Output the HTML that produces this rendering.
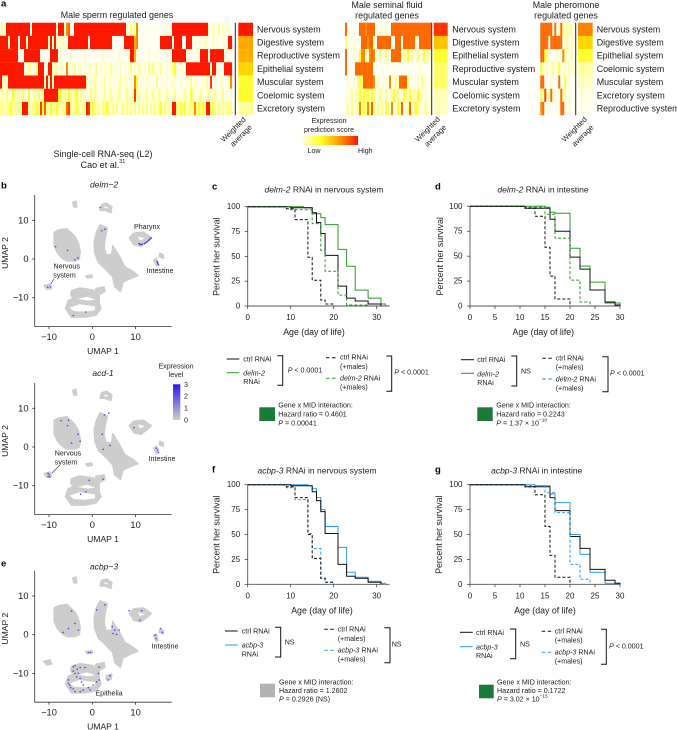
<!DOCTYPE html>
<html lang="en">
<head>
<meta charset="utf-8">
<title>Male-induced demise figure</title>
<style>
html,body{margin:0;padding:0;background:#fff;}
svg{display:block;}
text{font-family:"Liberation Sans",sans-serif;fill:#1c1c1c;dominant-baseline:central;}
.m{text-anchor:middle;}
.f7{font-size:7.1px;}
.f8{font-size:8.5px;}
.f9{font-size:8.9px;}
.w{font-size:7.6px;}
.i{font-style:italic;}
.pl{font-family:"Liberation Sans",sans-serif;font-weight:bold;font-size:9.5px;fill:#000;}
.br{fill:none;stroke:#111;stroke-width:1;}
</style>
</head>
<body>
<svg id="fig" xmlns="http://www.w3.org/2000/svg" width="677" height="730" viewBox="0 0 677 730">
<defs>
<linearGradient id="heatGrad" x1="0" x2="1" y1="0" y2="0">
<stop offset="0" stop-color="#fffff2"/><stop offset="0.35" stop-color="#ffff20"/><stop offset="0.7" stop-color="#ff9000"/><stop offset="1" stop-color="#fe1800"/>
</linearGradient>
<linearGradient id="exprGrad" x1="0" x2="0" y1="1" y2="0">
<stop offset="0" stop-color="#cfcfcf"/><stop offset="1" stop-color="#2a16f0"/>
</linearGradient>
</defs>

<!-- panel letters -->
<text class="pl" x="1" y="4">a</text>
<text class="pl" x="1" y="186">b</text>
<text class="pl" x="212" y="187">c</text>
<text class="pl" x="435" y="187">d</text>
<text class="pl" x="1" y="564">e</text>
<text class="pl" x="212" y="470">f</text>
<text class="pl" x="435" y="470">g</text>

<!-- panel a text -->
<text class="m f9" x="117" y="15">Male sperm regulated genes</text>
<text class="m f9" x="387" y="5">Male seminal fluid</text>
<text class="m f9" x="387" y="15.5">regulated genes</text>
<text class="m f9" x="566" y="5">Male pheromone</text>
<text class="m f9" x="566" y="15.5">regulated genes</text>
<text class="m w" transform="translate(233.3,129.5) rotate(-45)">Weighted</text>
<text class="m w" transform="translate(241,135.7) rotate(-45)">average</text>
<text class="m w" transform="translate(427.4,129.3) rotate(-45)">Weighted</text>
<text class="m w" transform="translate(435.3,135.7) rotate(-45)">average</text>
<text class="m w" transform="translate(574.3,129.3) rotate(-45)">Weighted</text>
<text class="m w" transform="translate(582.7,135.7) rotate(-45)">average</text>
<text class="m f7" x="329" y="121">Expression</text>
<text class="m f7" x="329" y="130">prediction score</text>
<rect x="301" y="136" width="57" height="9" fill="url(#heatGrad)"/>
<text class="f7" x="307.5" y="151">Low</text>
<text class="f7" x="358" y="151">High</text>
<text class="m" style="font-size:9px" x="103" y="154">Single-cell RNA-seq (L2)</text>
<text class="m" style="font-size:9px" x="103" y="165">Cao et al.<tspan dy="-3" font-size="5.5">31</tspan></text>

<!-- umap text -->
<text class="m i f8" x="104" y="184.7">delm−2</text>
<text class="m f7" x="147" y="227">Pharynx</text>
<text class="m f7" x="160" y="271">Intestine</text>
<text class="m f7" x="66.7" y="266.7">Nervous</text>
<text class="m f7" x="64.5" y="275.7">system</text>
<line x1="54" y1="279" x2="49" y2="287" stroke="#222" stroke-width=".6"/>
<text class="m i f8" x="103" y="373">acd-1</text>
<text class="m f7" x="68" y="453.7">Nervous</text>
<text class="m f7" x="66" y="462.7">system</text>
<line x1="59.3" y1="465.7" x2="51.7" y2="473.3" stroke="#222" stroke-width=".6"/>
<text class="m f7" x="162" y="459">Intestine</text>
<text class="m f7" x="176" y="366.3">Expression</text>
<text class="m f7" x="176" y="375">level</text>
<rect x="173" y="384.3" width="7.3" height="35.7" fill="url(#exprGrad)"/>
<text class="f7" x="184" y="385">3</text>
<text class="f7" x="184" y="396.3">2</text>
<text class="f7" x="184" y="408.3">1</text>
<text class="f7" x="184" y="420.3">0</text>
<text class="m i f8" x="104" y="566.7">acbp−3</text>
<text class="m f7" x="165" y="646.7">Intestine</text>
<text class="m f7" x="109" y="693.7">Epithelia</text>

<!-- survival titles -->
<text class="m f8" x="324" y="189.7"><tspan class="i">delm-2</tspan> RNAi in nervous system</text>
<text class="m f8" x="543" y="189.7"><tspan class="i">delm-2</tspan> RNAi in intestine</text>
<text class="m f8" x="317" y="470.7"><tspan class="i">acbp-3</tspan> RNAi in nervous system</text>
<text class="m f8" x="536.7" y="470.7"><tspan class="i">acbp-3</tspan> RNAi in intestine</text>

<!-- legend c -->
<g>
<line x1="226.7" x2="239.3" y1="359" y2="359" stroke="#111"/>
<text class="f7" x="243.3" y="359.3">ctrl RNAi</text>
<line x1="226.7" x2="239.3" y1="372.7" y2="372.7" stroke="#2a9a2a"/>
<text class="f7 i" x="243.3" y="373.3">delm-2</text>
<text class="f7" x="243.3" y="382">RNAi</text>
<path class="br" d="M277.3 355.7H282.7V385.3H277.3"/>
<text class="f7" x="287.7" y="370.7"><tspan class="i">P</tspan> &lt; 0.0001</text>
<line x1="326" x2="336.7" y1="357.7" y2="357.7" stroke="#111" stroke-dasharray="3.5 2.5"/>
<text class="f7" x="340" y="357.7">ctrl RNAi</text>
<text class="f7" x="340" y="367">(+males)</text>
<line x1="326" x2="336.7" y1="378.3" y2="378.3" stroke="#2a9a2a" stroke-dasharray="3.5 2.5"/>
<text class="f7" x="340" y="378.7"><tspan class="i">delm-2</tspan> RNAi</text>
<text class="f7" x="340" y="387.7">(+males)</text>
<path class="br" d="M386.3 356H391.7V391.3H386.3"/>
<text class="f7" x="394.3" y="372.7"><tspan class="i">P</tspan> &lt; 0.0001</text>
<rect x="259.3" y="407.3" width="15.7" height="13.7" fill="#1b7a3a"/>
<text class="f7" x="278.3" y="405.7">Gene x MID interaction:</text>
<text class="f7" x="278.3" y="414.7">Hazard ratio = 0.4601</text>
<text class="f7" x="278.3" y="423.3"><tspan class="i">P</tspan> = 0.00041</text>
</g>

<!-- legend d -->
<g>
<line x1="461" x2="474" y1="359.7" y2="359.7" stroke="#111"/>
<text class="f7" x="477.3" y="360">ctrl RNAi</text>
<line x1="461" x2="474" y1="373.3" y2="373.3" stroke="#2a9a2a"/>
<text class="f7 i" x="477.3" y="374.3">delm-2</text>
<text class="f7" x="477.3" y="383">RNAi</text>
<path class="br" d="M511.3 356H516.7V386H511.3"/>
<text class="f7" x="521" y="371.3">NS</text>
<line x1="542.3" x2="553.3" y1="358.3" y2="358.3" stroke="#111" stroke-dasharray="3.5 2.5"/>
<text class="f7" x="555.7" y="358.3">ctrl RNAi</text>
<text class="f7" x="555.7" y="367.7">(+males)</text>
<line x1="542.3" x2="553.3" y1="379" y2="379" stroke="#2a9a2a" stroke-dasharray="3.5 2.5"/>
<text class="f7" x="555.7" y="379.3"><tspan class="i">delm-2</tspan> RNAi</text>
<text class="f7" x="555.7" y="388.3">(+males)</text>
<path class="br" d="M602.3 356.7H608V391.7H602.3"/>
<text class="f7" x="610" y="373.3"><tspan class="i">P</tspan> &lt; 0.0001</text>
<rect x="477.3" y="407.3" width="15.4" height="13.7" fill="#1b7a3a"/>
<text class="f7" x="496.3" y="405.7">Gene x MID interaction:</text>
<text class="f7" x="496.3" y="414.7">Hazard ratio = 0.2243</text>
<text class="f7" x="496.3" y="423.3"><tspan class="i">P</tspan> = 1.37 × 10<tspan dy="-3" font-size="4.8">−10</tspan></text>
</g>

<!-- legend f -->
<g>
<line x1="225" x2="237.7" y1="631" y2="631" stroke="#111"/>
<text class="f7" x="241.7" y="631.3">ctrl RNAi</text>
<line x1="225" x2="237.7" y1="645" y2="645" stroke="#2d9cf0"/>
<text class="f7 i" x="241.7" y="645.7">acbp-3</text>
<text class="f7" x="241.7" y="654.3">RNAi</text>
<path class="br" d="M275 627.3H280.7V657H275"/>
<text class="f7" x="284.7" y="642.7">NS</text>
<line x1="324.3" x2="335" y1="629.3" y2="629.3" stroke="#111" stroke-dasharray="3.5 2.5"/>
<text class="f7" x="337.7" y="629.7">ctrl RNAi</text>
<text class="f7" x="337.7" y="639">(+males)</text>
<line x1="324.3" x2="335" y1="650.3" y2="650.3" stroke="#2d9cf0" stroke-dasharray="3.5 2.5"/>
<text class="f7" x="337.7" y="650.7"><tspan class="i">acbp-3</tspan> RNAi</text>
<text class="f7" x="337.7" y="659.7">(+males)</text>
<path class="br" d="M384.3 627.7H390V662.7H384.3"/>
<text class="f7" x="391.7" y="644.3">NS</text>
<rect x="260" y="683.7" width="15" height="13.6" fill="#b3b3b3"/>
<text class="f7" x="279" y="682.3">Gene x MID interaction:</text>
<text class="f7" x="279" y="691">Hazard ratio = 1.2602</text>
<text class="f7" x="279" y="699.7"><tspan class="i">P</tspan> = 0.2926 (NS)</text>
</g>

<!-- legend g -->
<g>
<line x1="460" x2="472.7" y1="632.3" y2="632.3" stroke="#111"/>
<text class="f7" x="476" y="633">ctrl RNAi</text>
<line x1="460" x2="472.7" y1="646.7" y2="646.7" stroke="#2d9cf0"/>
<text class="f7 i" x="476" y="647.3">acbp-3</text>
<text class="f7" x="476" y="656">RNAi</text>
<path class="br" d="M510 629H515.7V658.7H510"/>
<text class="f7" x="520" y="644.3">NS</text>
<line x1="541.7" x2="552.3" y1="631.3" y2="631.3" stroke="#111" stroke-dasharray="3.5 2.5"/>
<text class="f7" x="554.7" y="631.3">ctrl RNAi</text>
<text class="f7" x="554.7" y="640.7">(+males)</text>
<line x1="541.7" x2="552.3" y1="652.3" y2="652.3" stroke="#2d9cf0" stroke-dasharray="3.5 2.5"/>
<text class="f7" x="554.7" y="652.3"><tspan class="i">acbp-3</tspan> RNAi</text>
<text class="f7" x="554.7" y="661.3">(+males)</text>
<path class="br" d="M601 629.3H606.3V664.3H601"/>
<text class="f7" x="609" y="646.3"><tspan class="i">P</tspan> &lt; 0.0001</text>
<rect x="479" y="684.7" width="14.7" height="13.6" fill="#1b7a3a"/>
<text class="f7" x="497" y="682.3">Gene x MID interaction:</text>
<text class="f7" x="497" y="691">Hazard ratio = 0.1722</text>
<text class="f7" x="497" y="699.7"><tspan class="i">P</tspan> = 3.02 × 10<tspan dy="-3" font-size="4.8">−15</tspan></text>
</g>
</svg>

<script>
// ---------- heatmap data (digit = prediction score level 0-9; spaces ignored) ----------
const spermRows = [
"111 999999999999 0 999999999999 1 999 1 67 00 99999999999999999999999999 10212 6 00000000000000100 999999999999999999 101102011010",
"9999 1 9999 0 999 1 9999999999 1 9 1 9 11111 0 9999999999 0 99999999999 000000 99999 56 00000000000 999999 0 9999 00 999 010010110010100101 99",
"999999999 000 99999999 00000 9999 010000100000010000000010000000100001 99 5 000000100010000100 9999999 0100010 9999 0 9999999 0100",
"999999999999 0121012 999 01 99 1120110 6 101201101011012010110201101 01012010210102 12101200101 23 01010 999999999999 1 99 0100 9999",
"9 111 999999999999999999 1 9 1 9 1 9999999999999999 201021010201101012011010 63 010011000200101001100100102011001020 8 010011001 6",
"1212013212121030121212 9999999 33121321231211012121101201210121012102 8 121012012102101210120101210321012101201210120101",
"22122322122 999 212232 8 3 7 2132232122 78 21232122 98 23212122321212012121212021212021212312121 99 223231222 6 23232 99 23212121222"
];
const seminalRows = [
"7 000000 77767777 00100100 77777777777777777777",
"2 100100 0 777677 10 7777777 00 777 0 777777 10 777777",
"7 000100 3 66 11 676 10201201 77777 121312012013120",
"7 0000 777777777 00000000000000000000000100000",
"0100102 3 2 777776 0100100 6 1021 7777 201001021001",
"1012021323231320121020123120132131213210101",
"1202012 62326272 12120321 60132701 27123210 1201"
];
const pheromoneRows = [
"777777 0 7 01 7 212120",
"7777 0 777777 012011",
"77 32 1 000100 6 21020",
"31020120130110201",
"77 000100 0 7 00 3 0100",
"31 8 12 7 0100 7 210100",
"67 00000000 77 00100"
];
const spermSystems = ["Nervous system","Digestive system","Reproductive system","Epithelial system","Muscular system","Coelomic system","Excretory system"];
const seminalSystems = ["Nervous system","Digestive system","Epithelial system","Reproductive system","Muscular system","Coelomic system","Excretory system"];
const pheromoneSystems = ["Nervous system","Digestive system","Epithelial system","Coelomic system","Muscular system","Excretory system","Reproductive system"];
const spermWeighted = [9.0,5.2,5.0,4.2,3.0,3.1,1.7];
const seminalWeighted = [8.2,4.6,3.0,2.4,2.4,1.3,1.1];
const pheromoneWeighted = [6.3,4.2,3.0,1.6,1.1,0.4,0.1];

// ---------- UMAP data (UMAP coordinates) ----------
const umapTicks = [-10,0,10];
const blobNervous = [[-8.8,6.9],[-7.8,7.5],[-5.9,7.8],[-5,6.9],[-4,5.8],[-3.2,4.1],[-2.8,1.9],[-3,0],[-4,-0.5],[-5.9,-0.5],[-7.1,0.3],[-8.1,1.7],[-8.8,3.4]];
const blobCentral = [[1.8,8.8],[3.46,8],[3,5.8],[2.7,3],[3.2,1],[4.5,1.2],[4.7,3.4],[5.6,1.9],[6.5,0.2],[7.5,-2],[9.5,-3.3],[10.5,-4.3],[8.5,-5.2],[7.1,-6],[6.5,-8.4],[5.2,-7.2],[4.7,-4.6],[3.1,-2.6],[1.4,-0.9],[0.6,1.5],[0.45,4.5],[1,7]];
const blobPharynx = [[8.6,5.5],[9.5,6.6],[10.5,6.8],[11.8,6.9],[13.6,5.5],[12.8,4.6],[11.2,3.3],[9.6,3.7]];
const blobIntestineA = [[14.2,-0.3],[14.8,0.2],[15.2,-1.5],[14.8,-1.7]];
const blobIntestineB = [[15.6,1.5],[16.4,1],[16.4,0.2],[15.5,0.6]];
const blobTopSmall = [[-4.5,14.6],[-3.8,14.9],[-3.6,13.4],[-4.2,13.4]];
const blobTopRing = [[2.15,14],[3.3,14.4],[4.5,13.5],[4.3,12],[2.9,12.6],[1.8,12.6]];
const blobLeftSmall = [[-11.15,-6.9],[-9.8,-6.5],[-9.4,-7.6],[-10.5,-7.8]];
const blobStrip = [[-1.5,-4.4],[-0.15,-4.1],[0,-4.7],[-1.15,-4.9]];
const blobMid = [[0.85,-7.6],[2.7,-7.2],[2.9,-8.4],[1.8,-9.1],[0.8,-8.4]];
const blobRings = [[-4.8,-8.2],[-2.85,-7.5],[0.2,-8],[1.6,-9.5],[1.6,-11.5],[2,-12.8],[0.8,-14.5],[-1.7,-15],[-4.8,-15],[-6.2,-12.8],[-5.6,-10.8],[-4.4,-10.2],[-5,-9.2]];
const holePharynx = [[10.6,5.8],[12,5.3],[11,4.8]];
const holeTopRing = [[2.8,13.5],[3.6,13.3],[3.4,13.1],[2.8,13.2]];
const holeRingUpper = [[-3.2,-10.3],[-1.15,-9.8],[0.6,-10.5],[-1.15,-10.7]];
const holeRingLower = [[-5.2,-12.6],[-2.85,-11.7],[0.6,-12.3],[0.6,-13.2],[-1.7,-13.6],[-4.2,-13.4]];
const blobExtraE = [[3.2,-10.6],[4.5,-10.2],[4.3,-11.6],[3.2,-11.6]];
const umapBlobs = [blobNervous,blobCentral,blobPharynx,blobIntestineA,blobIntestineB,blobTopSmall,blobTopRing,blobLeftSmall,blobStrip,blobMid,blobRings];
const umapHoles = [holePharynx,holeTopRing,holeRingUpper,holeRingLower];
const pointsDelm2 = [[-8.5,3.2],[-5.7,2.2],[-4,-0.2],[-3.3,0.3],[-10.3,-7.3],[-9.7,-7.2],[1.8,13.3],[2.2,7.3],[2.9,7.7],[-1.5,-13.7],[-4.4,-14.6],[15,-0.7],[15.1,-1],[15.2,-1.3],[15.3,-1.5],[10.8,4],[11,3.8],[11.5,3.8],[12,4],[12.5,4.3],[13,4.8],[13.4,5.3],[13.6,5.4],[12.2,4.1],[11.2,3.7],[12.7,4.5],[13.2,5]];
const pointsAcd1 = [[-7.2,6.8],[-5.5,6.9],[-5.7,5.5],[-3.3,3.3],[-4.8,1],[-2.8,1.5],[2.8,8.3],[3.8,8.8],[2.3,3.3],[4.1,0.4],[2.5,-0.6],[9.6,5],[-0.7,-8.6],[2.5,-8.3],[-1.5,-11.6],[-2.7,-12.2],[-10.2,-6.8],[-9.9,-7.2],[-10.2,-7.7],[-9.8,-7.8],[14.8,-0.3],[15.1,-0.8],[15.3,-1.4]];
const pointsAcbp3 = [[-4.8,6.1],[-6.7,0.6],[-5.5,1.6],[-3.2,1.2],[-4,2.9],[8.5,6.2],[11.4,6.2],[11,3.8],[14.5,-0.1],[14.7,-1],[15.8,1.6],[16.2,0.6],[2.9,7.7],[1,6.4],[4.6,2.1],[4.8,0.3],[5.6,0.1],[6.2,1.2],[5.2,1.2],[-0.9,-4.6],[-0.4,-4.6],[1.6,-8.4],[1.4,-10],[1.6,-11.7],[4.1,-10.6],[3.7,-11.7],[-4.4,-8.3],[-4,-8],[-2.8,-8.5],[-1.7,-8.5],[-4.4,-9.4],[-3.5,-8.9],[-4,-10],[-3.2,-10],[-2.8,-11.3],[-2.5,-12.2],[-2.1,-13],[-0.9,-13.7],[0.2,-13],[1,-12.2],[-5.5,-11.7],[-5.2,-13],[-4.4,-14],[-4,-14.7],[-2.8,-14.7],[-2.1,-14.3],[-0.5,-14.3],[-5,-13.7],[-5.5,-12.6],[-3.6,-10.9]];

// ---------- survival data (percent surviving at each day of life) ----------
const daysLong = [0,1,2,3,4,5,6,7,8,9,10,11,12,13,14,15,16,17,18,19,20,21,22,23,24,25,26,27,28,29,30,31,32,33];
const daysShort = [0,1,2,3,4,5,6,7,8,9,10,11,12,13,14,15,16,17,18,19,20,21,22,23,24,25,26,27,28,29,30];
const ticksLong = [0,10,20,30];
const ticksShort = [0,5,10,15,20,25,30];
const percentTicks = [0,25,50,75,100];

const cCtrl = [100,100,100,100,100,100,100,100,100,100,99,99,99,99,99,94,84,73,51,51,51,20,20,8,8,5,5,5,2,2,2,0,0,0];
const cDelm2 = [100,100,100,100,100,100,100,100,100,100,100,100,100,99,99,93,93,89,82,82,82,57,57,40,40,16,16,16,8,8,8,2,0,0];
const cCtrlMales = [100,100,100,100,100,100,100,100,100,98,98,87,87,87,49,26,26,6,2,2,0,0,0,0,0,0,0,0,0,0,0,0,0,0];
const cDelm2Males = [100,100,100,100,100,100,100,100,100,100,97,97,97,97,97,83,83,56,35,35,35,11,11,1,1,1,1,1,0,0,0,0,0,0];

const dCtrl = [100,100,100,100,100,100,100,100,100,100,100,98,98,98,98,98,87,75,75,75,49,49,37,37,16,16,16,4,4,1,0];
const dDelm2 = [100,100,100,100,100,100,100,100,100,100,100,100,100,100,100,99,94,93,93,93,58,58,40,40,24,24,24,3,3,3,0];
const dCtrlMales = [100,100,100,100,100,100,100,100,100,100,100,98,98,90,90,59,30,7,7,7,0,0,0,0,0,0,0,0,0,0,0];
const dDelm2Males = [100,100,100,100,100,100,100,100,100,100,100,99,99,99,99,92,92,68,68,68,26,26,4,4,0,0,0,0,0,0,0];

const fCtrl = [100,100,100,100,100,100,100,100,100,100,99,99,99,99,99,93,84,73,51,51,51,20,20,8,8,6,6,6,2,2,2,0,0,0];
const fAcbp3 = [100,100,100,100,100,100,100,100,100,100,100,100,100,100,99,96,87,75,58,58,58,37,37,12,12,7,7,7,3,3,3,1,0,0];
const fCtrlMales = [100,100,100,100,100,100,100,100,100,98,98,87,87,87,50,26,26,6,2,2,0,0,0,0,0,0,0,0,0,0,0,0,0,0];
const fAcbp3Males = [100,100,100,100,100,100,100,100,100,97,97,85,85,85,51,36,36,6,2,2,0,0,0,0,0,0,0,0,0,0,0,0,0,0];

const gCtrl = [100,100,100,100,100,100,100,100,100,100,100,98,98,98,98,98,87,74,74,74,48,48,36,36,15,15,15,4,4,1,0];
const gAcbp3 = [100,100,100,100,100,100,100,100,100,100,100,100,100,99,99,99,91,82,82,82,50,50,30,30,12,12,12,1,1,1,0];
const gCtrlMales = [100,100,100,100,100,100,100,100,100,100,100,98,98,90,90,58,29,7,7,7,0,0,0,0,0,0,0,0,0,0,0];
const gAcbp3Males = [100,100,100,100,100,100,100,100,100,100,100,99,99,99,99,92,92,72,72,72,20,20,5,5,0,0,0,0,0,0,0];

// ---------- drawing ----------
const svg = document.getElementById('fig');
const NS = 'http://www.w3.org/2000/svg';
function mk(parent, tag, attrs, txt) {
  const el = document.createElementNS(NS, tag);
  for (const k in attrs) el.setAttribute(k, attrs[k]);
  if (txt !== undefined) el.textContent = txt;
  parent.appendChild(el);
  return el;
}
const heatStops = ['#fffff2','#ffffc8','#ffff8c','#ffff30','#ffe000','#ffb000','#ff8c00','#ff6a00','#ff3c00','#fe1800'];
function hex(c){return [parseInt(c.slice(1,3),16),parseInt(c.slice(3,5),16),parseInt(c.slice(5,7),16)];}
function heatColor(v){
  const i = Math.min(8, Math.floor(v)), f = Math.min(1, v - i);
  const a = hex(heatStops[i]), b = hex(heatStops[i+1]);
  return 'rgb(' + a.map((x,n)=>Math.round(x+(b[n]-x)*f)).join(',') + ')';
}
const heatTop = 22.7, rowH = 13.2, colW = 2;
function drawHeatmap(name, rows, systems, weighted, x0, lineX, wx, wWidth, labelX) {
  const g = mk(svg, 'g', {});
  
  
  rows.forEach((row, r) => {
    const digits = row.replace(/ /g, '');
    for (let c = 0; c < digits.length; c++) {
      const cell = mk(g, 'rect', {x: x0 + c * colW, y: heatTop + r * rowH, width: colW + 0.1, height: rowH + 0.1, fill: heatColor(+digits[c])});
      
      
    }
    const avg = mk(g, 'rect', {x: wx, y: heatTop + r * rowH, width: wWidth, height: rowH + 0.1, fill: heatColor(weighted[r])});
    
    
    const lab = mk(g, 'text', {x: labelX, y: heatTop + (r + 0.5) * rowH, class: 'f9'}, systems[r]);
    
    
  });
  const sep = mk(g, 'line', {x1: lineX, x2: lineX, y1: heatTop, y2: heatTop + 7 * rowH, stroke: '#222', 'stroke-width': 1});
  
  
}
drawHeatmap('sperm', spermRows, spermSystems, spermWeighted, 0, 235.3, 238.3, 14.7, 257);
drawHeatmap('seminal', seminalRows, seminalSystems, seminalWeighted, 345, 431.7, 433.7, 14, 452.3);
drawHeatmap('pheromone', pheromoneRows, pheromoneSystems, pheromoneWeighted, 540.3, 575.7, 578, 14.7, 596.7);

function polyPoints(poly, sx, sy){ return poly.map(p => sx(p[0]).toFixed(1) + ',' + sy(p[1]).toFixed(1)).join(' '); }
function drawUmap(name, y0, points, extraBlobs) {
  const sx = v => 92.3 + 4.33 * v;
  const sy = v => y0 - 3.87 * v;
  const g = mk(svg, 'g', {});
  
  
  umapBlobs.concat(extraBlobs).forEach(b => {
    const el = mk(g, 'polygon', {points: polyPoints(b, sx, sy), fill: '#cdcdcd', stroke: '#cdcdcd', 'stroke-width': 1.6, 'stroke-linejoin': 'round'});
    
    
  });
  umapHoles.forEach(b => {
    const el = mk(g, 'polygon', {points: polyPoints(b, sx, sy), fill: '#fff', stroke: '#fff', 'stroke-width': .3, 'stroke-linejoin': 'round'});
    
    
  });
  points.forEach(p => {
    const el = mk(g, 'circle', {cx: sx(p[0]), cy: sy(p[1]), r: 0.8, fill: '#3a22ea', 'fill-opacity': .85});
    
    
  });
  const axis = mk(g, 'path', {d: 'M34.7 ' + (y0 - 64) + 'V' + (y0 + 67.5) + 'H171.7', fill: 'none', stroke: '#333', 'stroke-width': .8});
  
  
  umapTicks.forEach(t => {
    const tx = mk(g, 'line', {x1: sx(t), x2: sx(t), y1: y0 + 67.5, y2: y0 + 70, stroke: '#333', 'stroke-width': .8});
    
    
    const ty = mk(g, 'line', {x1: 32.2, x2: 34.7, y1: sy(t), y2: sy(t), stroke: '#333', 'stroke-width': .8});
    
    
    const label = String(t).replace('-', '−');
    const lx = mk(g, 'text', {x: sx(t), y: y0 + 78, class: 'm', 'font-size': 9.3}, label);
    
    
    const ly = mk(g, 'text', {x: 28.5, y: sy(t), 'text-anchor': 'end', 'font-size': 9.3}, label);
    
    
  });
  const xt = mk(g, 'text', {x: 103, y: y0 + 92, class: 'm', 'font-size': 8.6}, 'UMAP 1');
  
  
  const yt = mk(g, 'text', {class: 'm', 'font-size': 8.6, transform: 'translate(4.8,' + (y0 - 6) + ') rotate(-90)'}, 'UMAP 2');
  
  
}
drawUmap('umap-delm2', 259, pointsDelm2, []);
drawUmap('umap-acd1', 447, pointsAcd1, []);
drawUmap('umap-acbp3', 634.7, pointsAcbp3, [blobExtraE]);

function stepPath(days, values, sx, sy) {
  let d = 'M' + sx(days[0]).toFixed(1) + ' ' + sy(values[0]).toFixed(1);
  for (let i = 1; i < days.length; i++) {
    d += 'H' + sx(days[i]).toFixed(1) + 'V' + sy(values[i]).toFixed(1);
    if (values[i] === 0) break;
  }
  return d;
}
function drawSurvival(name, o) {
  const sx = v => o.x0 + o.k * v;
  const sy = v => o.y100 + (100 - v) * (o.yZero - o.y100) / 100;
  const g = mk(svg, 'g', {});
  
  
  const axis = mk(g, 'path', {d: 'M' + o.x0 + ' ' + o.y100 + 'V' + o.yZero + 'H' + sx(o.xMax), fill: 'none', stroke: '#555', 'stroke-width': .9});
  
  
  percentTicks.forEach(t => {
    const tk = mk(g, 'line', {x1: o.x0 - 3, x2: o.x0, y1: sy(t), y2: sy(t), stroke: '#333', 'stroke-width': .7});
    
    
    const lb = mk(g, 'text', {x: o.x0 - 7.5, y: sy(t), 'text-anchor': 'end', 'font-size': 8}, t);
    
    
  });
  o.ticks.forEach(t => {
    const tk = mk(g, 'line', {x1: sx(t), x2: sx(t), y1: o.yZero, y2: o.yZero + 3, stroke: '#333', 'stroke-width': .7});
    
    
    const lb = mk(g, 'text', {x: sx(t), y: o.yZero + 11.6, class: 'm', 'font-size': 8}, t);
    
    
  });
  const xt = mk(g, 'text', {x: o.xTitleX, y: o.yZero + 26, class: 'm', 'font-size': 8.8}, 'Age (day of life)');
  
  
  const yt = mk(g, 'text', {class: 'm', 'font-size': 8.9, transform: 'translate(' + o.yTitleX + ',' + (o.y100 + 50) + ') rotate(-90)'}, 'Percent her survival');
  
  
  const trt = mk(g, 'path', {d: stepPath(o.days, o.trt, sx, sy), fill: 'none', stroke: o.color, 'stroke-width': 1});
  
  
  const ctrl = mk(g, 'path', {d: stepPath(o.days, o.ctrl, sx, sy), fill: 'none', stroke: '#111', 'stroke-width': 1});
  
  
  const trtM = mk(g, 'path', {d: stepPath(o.days, o.trtM, sx, sy), fill: 'none', stroke: o.color, 'stroke-width': 1, 'stroke-dasharray': '3 2'});
  
  
  const ctrlM = mk(g, 'path', {d: stepPath(o.days, o.ctrlM, sx, sy), fill: 'none', stroke: '#111', 'stroke-width': 1, 'stroke-dasharray': '3 2'});
  
  
}
const GREEN = '#2a9a2a', BLUE = '#2d9cf0';
drawSurvival('survival-panel-c', {x0:247.7,k:4.3,xMax:33,y100:206.7,yZero:306,ticks:ticksLong,days:daysLong,ctrl:cCtrl,trt:cDelm2,ctrlM:cCtrlMales,trtM:cDelm2Males,color:GREEN,xTitleX:314,yTitleX:216.7});
drawSurvival('survival-panel-d', {x0:470,k:5,xMax:30,y100:206.3,yZero:306,ticks:ticksShort,days:daysShort,ctrl:dCtrl,trt:dDelm2,ctrlM:dCtrlMales,trtM:dDelm2Males,color:GREEN,xTitleX:543.3,yTitleX:440});
drawSurvival('survival-panel-f', {x0:247.7,k:4.3,xMax:33,y100:484.7,yZero:584.3,ticks:ticksLong,days:daysLong,ctrl:fCtrl,trt:fAcbp3,ctrlM:fCtrlMales,trtM:fAcbp3Males,color:BLUE,xTitleX:322,yTitleX:216.7});
drawSurvival('survival-panel-g', {x0:470,k:5,xMax:30,y100:484.7,yZero:584.3,ticks:ticksShort,days:daysShort,ctrl:gCtrl,trt:gAcbp3,ctrlM:gCtrlMales,trtM:gAcbp3Males,color:BLUE,xTitleX:545,yTitleX:439});
</script>
</body>
</html>
